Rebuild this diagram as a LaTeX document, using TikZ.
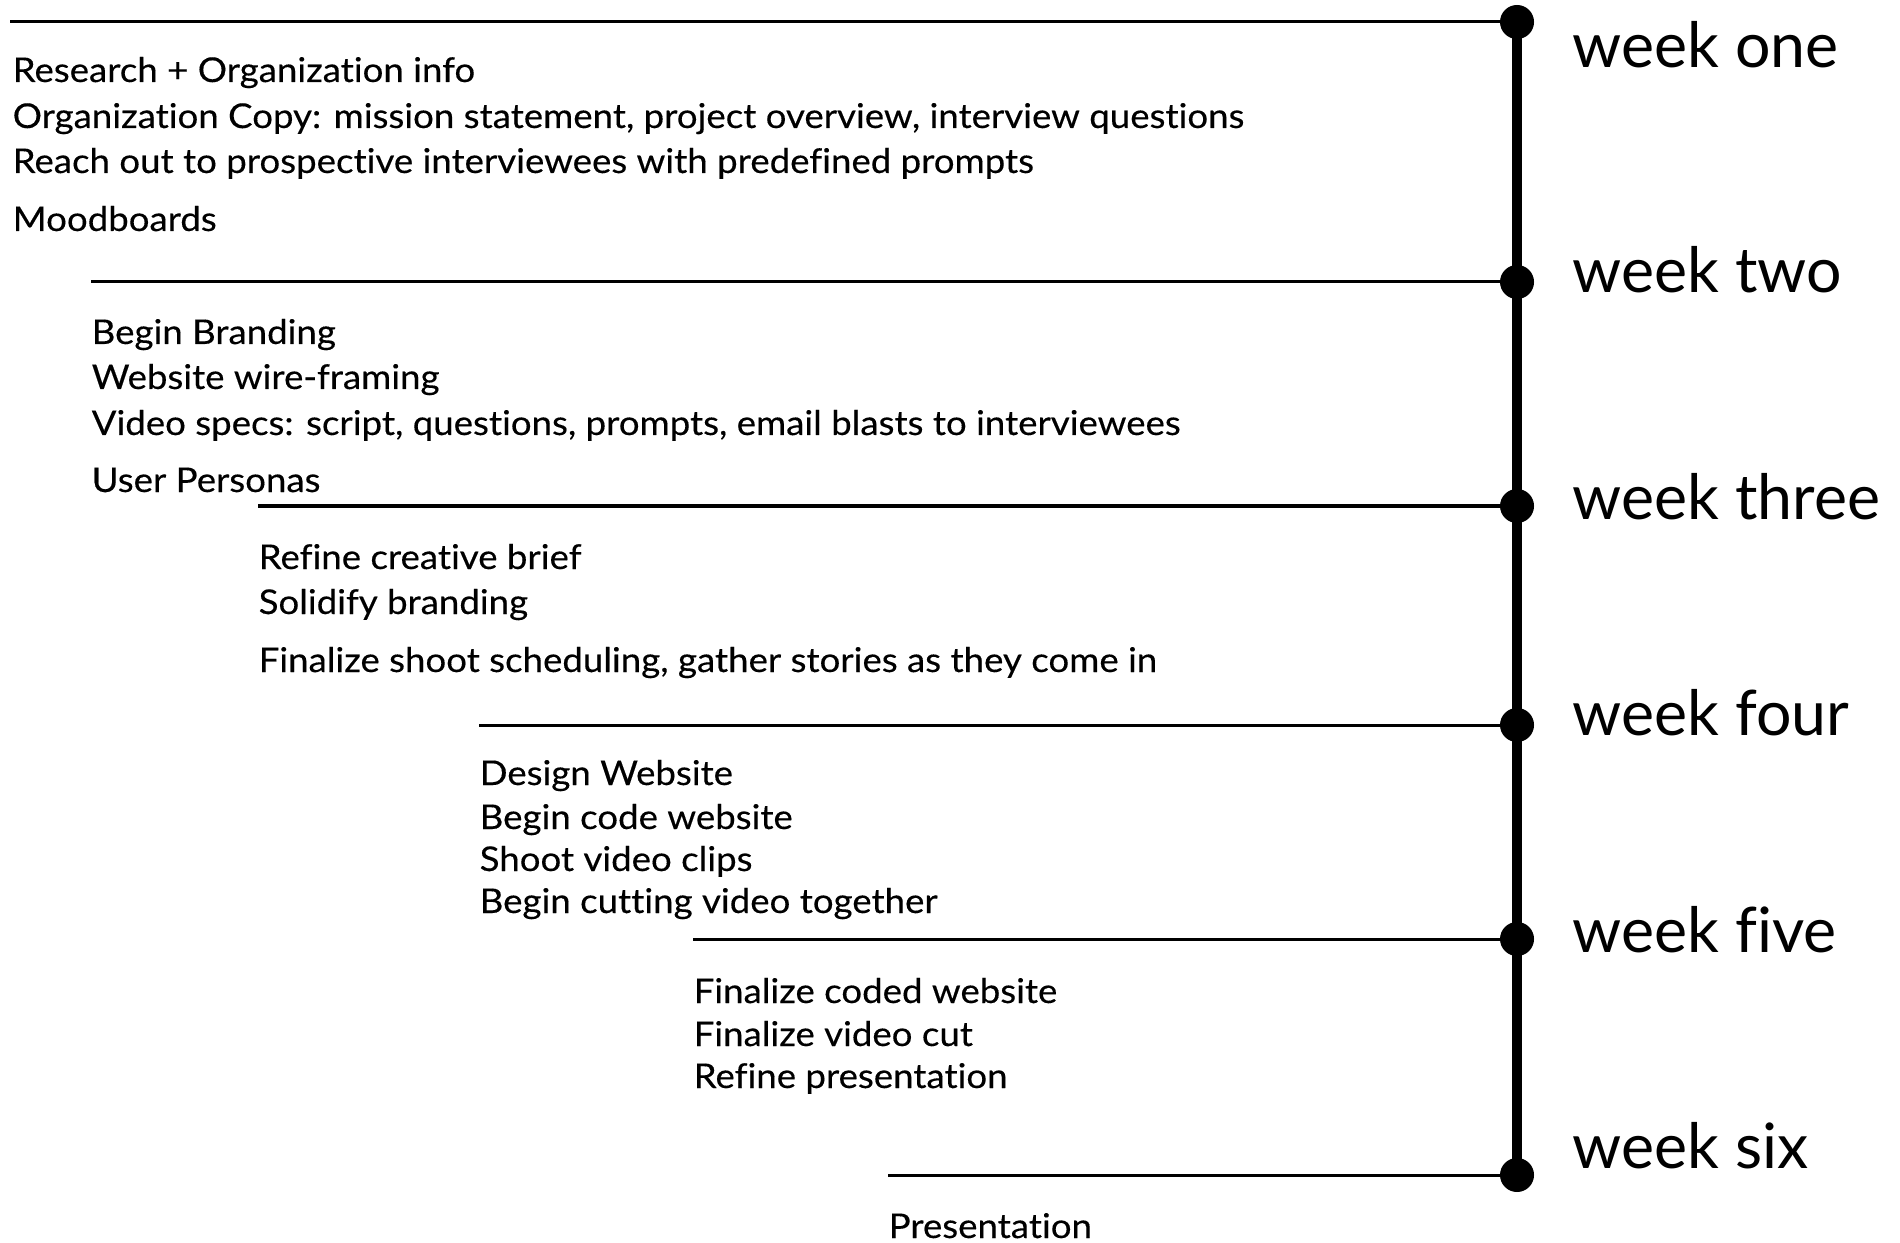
\documentclass[tikz,border=0pt]{standalone}
\usepackage{fontspec}
\setmainfont{Lato}[Ligatures=NoCommon]
\newfontfamily\taskfont{Lato}[FakeStretch=1.074,FakeBold=0.3,Ligatures=NoCommon]
\begin{document}
\begin{tikzpicture}[x=0.01cm,y=-0.01cm,
			dot/.style={circle,fill=black,inner sep=0pt,minimum size=0.34cm},
			rule/.style={line width=0.03cm},
			spine/.style={line width=0.107cm},
			task/.style={anchor=base west,inner sep=0pt,font=\taskfont\fontsize{9.7}{12}\selectfont},
			week/.style={anchor=base west,inner sep=0pt,font=\fontsize{17.8}{20}\selectfont}]
			\useasboundingbox (0,0) rectangle (1900,1243);
			\node[dot] (w1) at (1517,22) {};
			\node[dot] (w2) at (1517,282) {};
			\node[dot] (w3) at (1517,506) {};
			\node[dot] (w4) at (1517,725) {};
			\node[dot] (w5) at (1517,939) {};
			\node[dot] (w6) at (1517,1175) {};
			\draw[spine] (w1.center) -- (w6.center);
			\coordinate (s1) at (10,22);
			\coordinate (s2) at (91,282);
			\coordinate (s3) at (258,506);
			\coordinate (s4) at (479,725);
			\coordinate (s5) at (693,939);
			\coordinate (s6) at (888,1175);
			\draw[rule] (s1) -- (w1.center);
			\draw[rule] (s2) -- (w2.center);
			\draw[rule] (s3) -- (w3.center);
			\draw[rule] (s4) -- (w4.center);
			\draw[rule] (s5) -- (w5.center);
			\draw[rule] (s6) -- (w6.center);
			\node[week] (l1) at (1572,68) {week one};
			\node[week] (l2) at (1572,293) {week two};
			\node[week] (l3) at (1572,519) {week three};
			\node[week] (l4) at (1572,735) {week four};
			\node[week] (l5) at (1572,952) {week five};
			\node[week] (l6) at (1572,1168) {week six};
			\node[task] (a1) at (12,82) {Research + Organization info};
			\node[task] (a2) at (12,128) {Organization Copy: mission statement, project overview, interview questions};
			\node[task] (a3) at (12,173) {Reach out to prospective interviewees with predefined prompts};
			\node[task] (a4) at (12,231) {Moodboards};
			\node[task] (b1) at (91,344) {Begin Branding};
			\node[task] (b2) at (91,389) {Website wire-framing};
			\node[task] (b3) at (91,435) {Video specs: script, questions, prompts, email blasts to interviewees};
			\node[task] (b4) at (91,492) {User Personas};
			\node[task] (c1) at (258,569) {Refine creative brief};
			\node[task] (c2) at (258,614) {Solidify branding};
			\node[task] (c3) at (258,672) {Finalize shoot scheduling, gather stories as they come in};
			\node[task] (d1) at (479,785) {Design Website};
			\node[task] (d2) at (479,829) {Begin code website};
			\node[task] (d3) at (479,871) {Shoot video clips};
			\node[task] (d4) at (479,913) {Begin cutting video together};
			\node[task] (e1) at (693,1003) {Finalize coded website};
			\node[task] (e2) at (693,1046) {Finalize video cut};
			\node[task] (e3) at (693,1088) {Refine presentation};
			\node[task] (f1) at (888,1238) {Presentation};
		\end{tikzpicture}
\end{document}
